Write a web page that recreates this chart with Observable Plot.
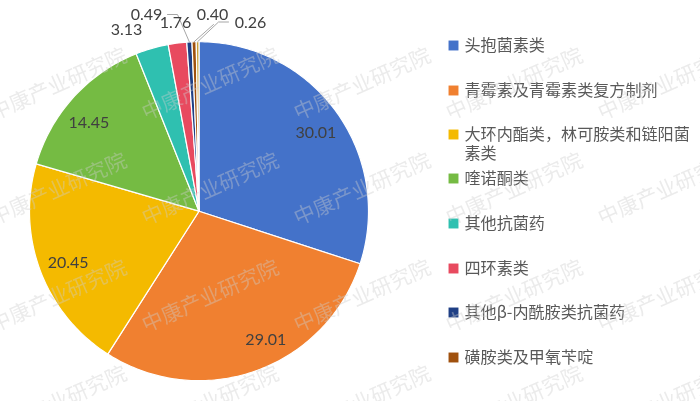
<!DOCTYPE html>
<html><head><meta charset="utf-8">
<script src="https://cdn.jsdelivr.net/npm/d3@7"></script>
<script src="https://cdn.jsdelivr.net/npm/@observablehq/plot@0.6"></script>
<style>html,body{margin:0;padding:0;background:#fff;overflow:hidden}svg{display:block;filter:blur(.3px)}</style>
</head><body><div id="chart"></div>
<script>
const categories = ["头抱菌素类","青霉素及青霉素类复方制剂","大环内酯类，林可胺类和链阳菌\n素类","喹诺酮类","其他抗菌药","四环素类","其他β-内酰胺类抗菌药","磺胺类及甲氧苄啶","其他"];
const values = [30.01,29.01,20.45,14.45,3.13,1.76,0.49,0.40,0.26];
const colors = ["#4472C9","#F08030","#F4BA00","#75BB43","#2FC0B0","#E84A5F","#1F3F85","#A0510E","#C9A13B"];
const legendCount = 8;
const watermark = "中康产业研究院";

const W = 700, H = 401, cx = 198.5, cy = 210.7, R = 169.5;
const total = d3.sum(values);
const polar = (turn, r) => ({x: cx + r * Math.sin(turn * 2 * Math.PI), y: cy - r * Math.cos(turn * 2 * Math.PI)});
let acc = 0;
const slices = values.map((v, i) => { const s = {name: categories[i], value: v, a0: acc / total, a1: (acc + v) / total}; acc += v; return s; });
const wedge = [];
for (const s of slices) {
  const n = Math.max(2, Math.ceil((s.a1 - s.a0) * 360));
  wedge.push({name: s.name, x: cx, y: cy});
  for (let k = 0; k <= n; k++) wedge.push({name: s.name, ...polar(s.a0 + (s.a1 - s.a0) * k / n, R)});
  wedge.push({name: s.name, x: cx, y: cy});
}
// The four large slices carry their label inside on the mid-angle; the small ones sit outside the rim.
const labelR = 142;
const place = [[2,5],[19,-5],[2,2],[-5,7],[126,29.5],[175,22],[146,14.5],[212,14.5],[250,22]];
const labels = slices.map((s, i) => {
  const p = polar((s.a0 + s.a1) / 2, labelR);
  return i < 4 ? {x: p.x + place[i][0], y: p.y + place[i][1], t: s.value.toFixed(2)}
               : {x: place[i][0], y: place[i][1], t: s.value.toFixed(2)};
});
const rimPt = i => polar((slices[i].a0 + slices[i].a1) / 2, R);
const leaders = [
  [6, [[177,14],[167,14]]],
  [7, [[213,24]]],
  [8, [[218,21.5],[228,21.5]]]
].flatMap(([i, pts]) => [{id:i, ...rimPt(i)}, ...pts.map(p => ({id:i, x:p[0], y:p[1]}))]);

const legendRows = [45,90,134,178,223,268,312,357];
const legend = slices.slice(0, legendCount).map((s, i) => ({name: s.name, y: legendRows[i]}));
const legendLines = legend.flatMap(d => d.name.split("\n").map((t, j) => ({t, y: d.y + j * 19})));
const marks = [];
for (const y of [84,189,296,402]) for (const x of [58,210,362,514,666]) marks.push({x, y});

const plot = Plot.plot({
  width: W, height: H, margin: 0,
  x: {domain: [0, W], range: [0, W], axis: null},
  y: {domain: [0, H], range: [0, H], axis: null},
  color: {type: "ordinal", domain: categories, range: colors},
  marks: [
    Plot.line(wedge, {x: "x", y: "y", z: "name", fill: "name", stroke: "#fff", strokeWidth: 1.2, strokeLinejoin: "round", curve: "linear"}),
    Plot.line(leaders, {x: "x", y: "y", z: "id", stroke: "#a6a6a6", strokeWidth: 1}),
    Plot.text(labels, {x: "x", y: "y", text: "t", fill: "#404040", fontSize: 16, fontFamily: "Lato"}),
    Plot.dot(legend, {x: () => 453, y: "y", fill: "name", symbol: "square", r: 5.6, stroke: "none"}),
    Plot.text(legendLines, {x: () => 464, y: "y", text: "t", textAnchor: "start", fill: "#595959", fontSize: 16.1, fontFamily: "'Noto Sans CJK SC'"}),
    Plot.text(marks, {x: "x", y: "y", text: () => watermark, rotate: -24, fill: "#ccc", fillOpacity: .4, fontSize: 21, fontFamily: "'Noto Sans CJK SC'"})
  ]
});
document.getElementById("chart").appendChild(plot);
</script></body></html>
